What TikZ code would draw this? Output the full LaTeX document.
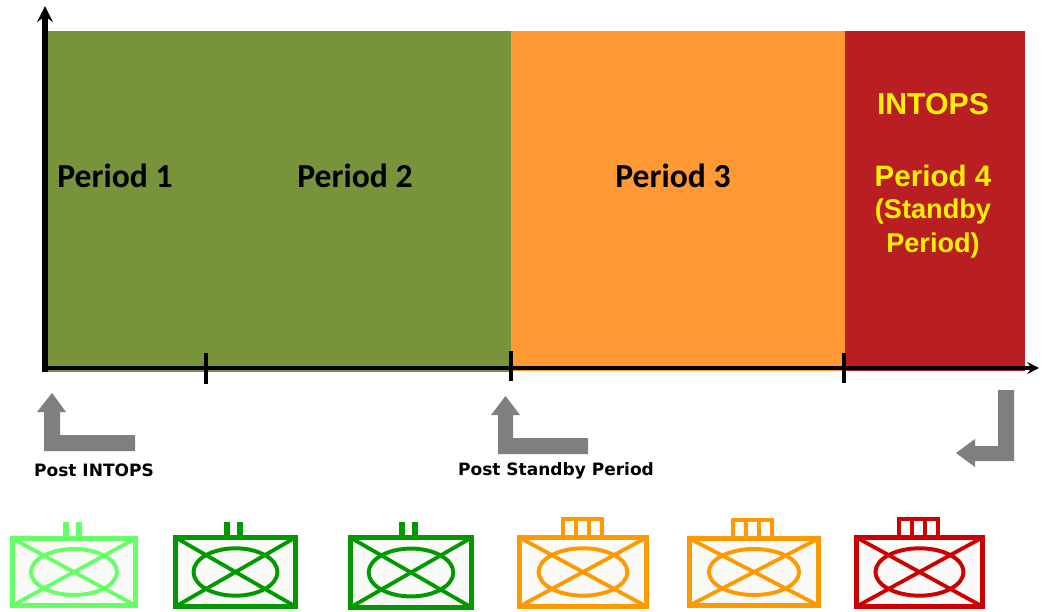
\documentclass[tikz,border=0pt]{standalone}
\usepackage{fontspec}
\setmainfont{Carlito}
\newfontfamily\armfont{Liberation Sans}
\newfontfamily\verfont{DejaVu Sans}
\definecolor{periodgreen}{HTML}{77933C}
\definecolor{periodorange}{HTML}{FF9933}
\definecolor{periodred}{HTML}{B81E22}
\definecolor{arrowgrey}{HTML}{7F7F7F}
\definecolor{unitlight}{HTML}{66FF66}
\definecolor{unitgreen}{HTML}{009900}
\definecolor{unitorange}{HTML}{FF9900}
\definecolor{unitred}{HTML}{CC0000}
\definecolor{unitfill}{HTML}{FAFAF8}
\begin{document}
\begin{tikzpicture}[
    x=0.025cm, y=-0.025cm,
    axis/.style={->, >=stealth, black},
    tick/.style={black, line width=2.9pt},
    period/.style={font=\fontsize{23.9}{26}\selectfont\bfseries, text=black},
    intops/.style={font=\armfont\fontsize{21.5}{24}\selectfont\bfseries, text=yellow, align=center},
    post/.style={font=\verfont\fontsize{12.1}{14}\selectfont\bfseries, text=black},
    bent/.style={fill=arrowgrey, draw=none},
    pics/unitbox/.style={code={
        \draw[line width=3.9pt, draw=#1, fill=unitfill] (-61.5,-33.5) rectangle (61.5,33.5);
        \draw[line width=2.7pt, draw=#1] (-61.5,-33.5) -- (61.5,33.5);
        \draw[line width=2.7pt, draw=#1] (-61.5,33.5) -- (61.5,-33.5);
        \draw[line width=2.8pt, draw=#1] (0,0) ellipse [x radius=43, y radius=23];
    }},
    pics/twotab/.style={code={
        \draw[line width=4pt, draw=#1] (-8,-36) -- (-8,-50);
        \draw[line width=4pt, draw=#1] (5,-36) -- (5,-50);
    }},
    pics/threetab/.style={code={
        \draw[line width=3.4pt, draw=#1] (-21,-34) rectangle (18,-53);
        \draw[line width=3.4pt, draw=#1] (-8,-34) -- (-8,-53);
        \draw[line width=3.4pt, draw=#1] (5,-34) -- (5,-53);
    }}
]
    \useasboundingbox (0,0) rectangle (1047,612);

    % Periods
    \fill[periodgreen] (46,31) rectangle (511,372);
    \fill[periodorange] (511,31) rectangle (845,371);
    \fill[periodred] (845,31) rectangle (1025,371);

    % Axes
    \coordinate (origin) at (45,368);
    \coordinate (topend) at (45,6);
    \coordinate (rightend) at (1039,368);
    \draw[axis, line width=3.9pt] (45,372) -- (topend);
    \draw[axis, line width=2.6pt] (origin) -- (rightend);

    % Ticks
    \draw[tick] (206,353) -- (206,384);
    \draw[tick] (511,351) -- (511,381);
    \draw[tick] (844,353) -- (844,383);

    % Labels
    \node[period] (period1) at (115,176) {Period 1};
    \node[period] (period2) at (355,176) {Period 2};
    \node[period] (period3) at (673,176) {Period 3};
    \node[intops] (intops4) at (933,104) {INTOPS};
    \node[intops, font=\armfont\fontsize{21}{24}\selectfont\bfseries] (period4) at (933,176) {Period 4};
    \node[intops, font=\armfont\fontsize{19.3}{24}\selectfont\bfseries] (standby) at (933,228.5) {(Standby\\Period)};

    % Bent arrows
    \fill[bent] (52,393) -- (66,412) -- (60,412) -- (60,435) -- (135,435) -- (135,451)
                -- (44,451) -- (44,412) -- (37,412) -- cycle;
    \fill[bent] (505.5,396) -- (520,415) -- (513,415) -- (513,438) -- (588,438) -- (588,454)
                -- (498,454) -- (498,415) -- (491,415) -- cycle;
    \fill[bent] (956,453) -- (975,439) -- (975,446) -- (998,446) -- (998,390) -- (1014,390)
                -- (1014,461) -- (975,461) -- (975,467) -- cycle;
    \node[post] (postintops) at (94,470) {Post INTOPS};
    \node[post] (poststandby) at (556,471) {Post Standby Period};

    % Units
    \pic at (74,572) {unitbox=unitlight};
    \pic at (74,572) {twotab=unitlight};
    \pic[xscale=0.976, yscale=1.03] at (235.5,572) {unitbox=unitgreen};
    \pic at (235,572) {twotab=unitgreen};
    \pic[xscale=0.984, yscale=1.04] at (411,572.5) {unitbox=unitgreen};
    \pic at (410,572) {twotab=unitgreen};
    \pic[xscale=1.033, yscale=1.03] at (583,572) {unitbox=unitorange};
    \pic at (584,572) {threetab=unitorange};
    \pic[xscale=1.049] at (754,572) {unitbox=unitorange};
    \pic at (754,573) {threetab=unitorange};
    \pic[xscale=1.024, yscale=1.03] at (919.5,572) {unitbox=unitred};
    \pic at (920,572) {threetab=unitred};
\end{tikzpicture}
\end{document}
